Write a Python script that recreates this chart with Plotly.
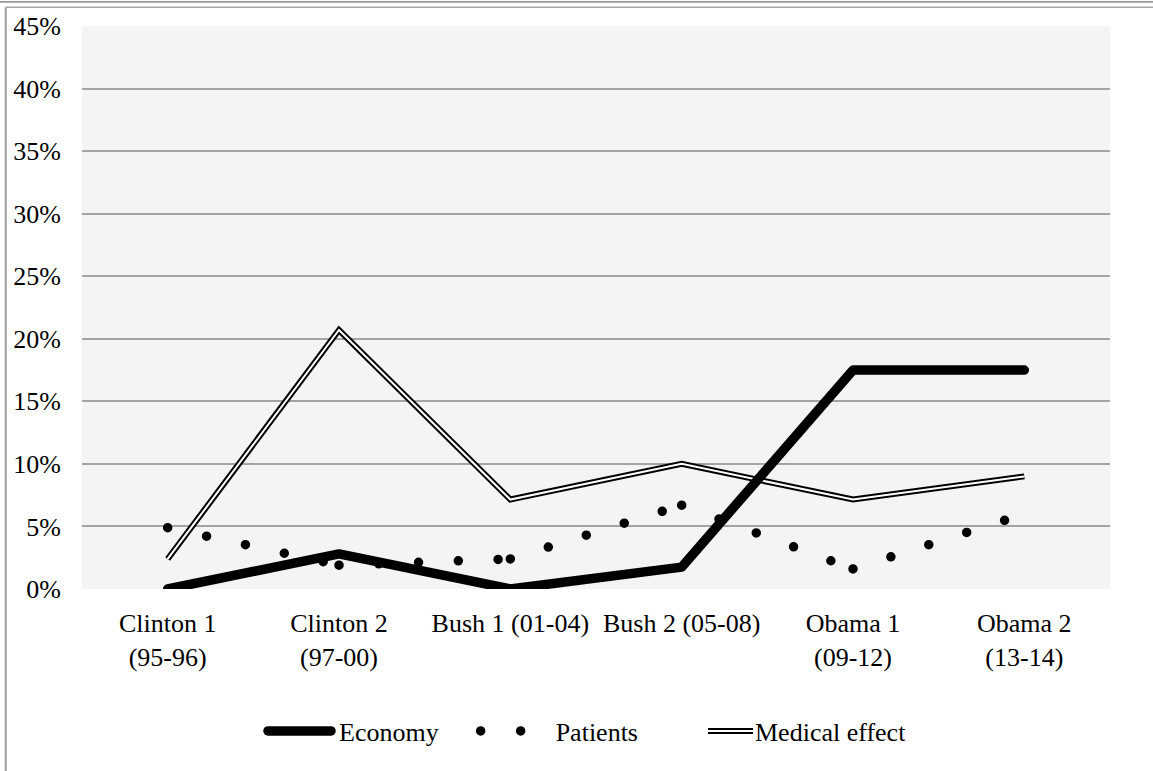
import plotly.graph_objects as go

# Presidential terms (category axis)
periods = [
    "Clinton 1 (95-96)", "Clinton 2 (97-00)", "Bush 1 (01-04)",
    "Bush 2 (05-08)", "Obama 1 (09-12)", "Obama 2 (13-14)",
]
tick_labels = [
    "Clinton 1<br>(95-96)", "Clinton 2<br>(97-00)", "Bush 1 (01-04)",
    "Bush 2 (05-08)", "Obama 1<br>(09-12)", "Obama 2<br>(13-14)",
]

# Share of mentions per theme
economy = [0.000, 0.028, 0.000, 0.0175, 0.175, 0.175]
patients = [0.049, 0.019, 0.024, 0.067, 0.016, 0.060]
medical_effect = [0.024, 0.207, 0.0715, 0.100, 0.0715, 0.090]

y_ticks = [0.00, 0.05, 0.10, 0.15, 0.20, 0.25, 0.30, 0.35, 0.40, 0.45]

W, H = 1153, 771
ML, MR, MT, MB = 82, 43, 26, 182
FONT = "Liberation Serif, Times New Roman, serif"
GRID = "#a3a3a3"


def px_x(px):
    return (px - ML) / (W - ML - MR)


def px_y(py):
    return (H - MB - py) / (H - MT - MB)


fig = go.Figure()

# Medical effect: double line (black outer stroke, light inner stroke)
fig.add_trace(go.Scatter(
    x=periods, y=medical_effect, mode="lines", name="Medical effect",
    line=dict(color="black", width=6), legendrank=3, hoverinfo="skip",
))
fig.add_trace(go.Scatter(
    x=periods, y=medical_effect, mode="lines", name="Medical effect inner",
    line=dict(color="#ffffff", width=2), showlegend=False, hoverinfo="skip",
))

# Patients: round-dot line, each segment drawn separately so the dots
# restart at every data point
for i in range(len(periods) - 1):
    fig.add_trace(go.Scatter(
        x=periods[i:i + 2], y=patients[i:i + 2], mode="lines",
        name="Patients", legendgroup="patients", showlegend=(i == 0),
        legendrank=2, line=dict(color="black", width=9.5, dash="1px,39px"),
        hoverinfo="skip",
    ))

# Economy: thick solid line
fig.add_trace(go.Scatter(
    x=periods, y=economy, mode="lines", name="Economy",
    line=dict(color="black", width=9.5), legendrank=1, hoverinfo="skip",
))

# Outer frame lines
frame = [
    dict(x0=px_x(0), x1=px_x(W), y0=px_y(1.8), y1=px_y(1.8), color="#9a9a9a", width=1.8),
    dict(x0=px_x(5.7), x1=px_x(W), y0=px_y(7.3), y1=px_y(7.3), color="#a8a8a8", width=1.4),
    dict(x0=px_x(5.7), x1=px_x(5.7), y0=px_y(7.3), y1=px_y(H), color="#a0a0a0", width=2),
]
for f in frame:
    fig.add_shape(type="line", xref="paper", yref="paper",
                  x0=f["x0"], x1=f["x1"], y0=f["y0"], y1=f["y1"],
                  line=dict(color=f["color"], width=f["width"]), layer="above")

fig.update_layout(
    width=W, height=H,
    margin=dict(l=ML, r=MR, t=MT, b=MB, autoexpand=False),
    paper_bgcolor="white",
    plot_bgcolor="#f4f4f4",
    font=dict(family=FONT, size=26, color="black"),
    showlegend=True,
    legend=dict(
        orientation="h", x=px_x(227), xanchor="left", y=px_y(731), yanchor="middle",
        font=dict(family=FONT, size=26, color="black"),
        itemwidth=102, traceorder="normal", bgcolor="rgba(0,0,0,0)",
    ),
    xaxis=dict(
        type="category", tickmode="array", tickvals=periods, ticktext=tick_labels,
        range=[-0.5, len(periods) - 0.5],
        showgrid=False, zeroline=False, showline=False, ticks="",
        tickfont=dict(family=FONT, size=26, color="black"),
        ticklabelstandoff=16,
    ),
    yaxis=dict(
        range=[0, 0.45], tickmode="array", tickvals=y_ticks, tickformat=".0%",
        showgrid=True, gridcolor=GRID, gridwidth=1.6, zeroline=False,
        showline=False, ticks="",
        tickfont=dict(family=FONT, size=26, color="black"),
        ticklabelstandoff=20,
    ),
)

# Line caps, dot pattern and legend key shapes
post_js = """
var gd = document.getElementById('{plot_id}');
function dressLines() {
  gd.querySelectorAll('.scatterlayer .trace').forEach(function (g) {
    var d = g.__data__;
    var tr = d && d[0] && d[0].trace;
    var p = g.querySelector('path.js-line');
    if (!tr || !p) return;
    if (tr.legendgroup === 'patients') {
      p.style.strokeLinecap = 'round';
      p.style.strokeDasharray = '0 39.8';
    } else if (tr.name === 'Economy') {
      p.style.strokeLinecap = 'round';
      p.style.strokeLinejoin = 'round';
    }
  });
  gd.querySelectorAll('.legend .traces').forEach(function (g) {
    var d = g.__data__;
    var tr = d && d[0] && d[0].trace;
    var p = g.querySelector('path.js-line');
    if (!tr || !p) return;
    if (tr.legendgroup === 'patients') {
      p.setAttribute('d', 'M37,0h41');
      p.style.strokeLinecap = 'round';
      p.style.strokeDasharray = '0 40';
    } else if (tr.name === 'Economy') {
      p.setAttribute('d', 'M41,0h63');
      p.style.strokeLinecap = 'round';
    } else if (tr.name === 'Medical effect') {
      p.setAttribute('d', 'M65,0h45');
      if (!g.querySelector('.inner-line')) {
        var inner = p.cloneNode(true);
        inner.setAttribute('class', 'inner-line');
        inner.style.stroke = '#ffffff';
        inner.style.strokeWidth = '2px';
        p.parentNode.appendChild(inner);
      }
    }
  });
}
dressLines();
gd.on('plotly_afterplot', dressLines);
"""

fig.write_html("out.html", post_script=post_js, config={"displayModeBar": False})
